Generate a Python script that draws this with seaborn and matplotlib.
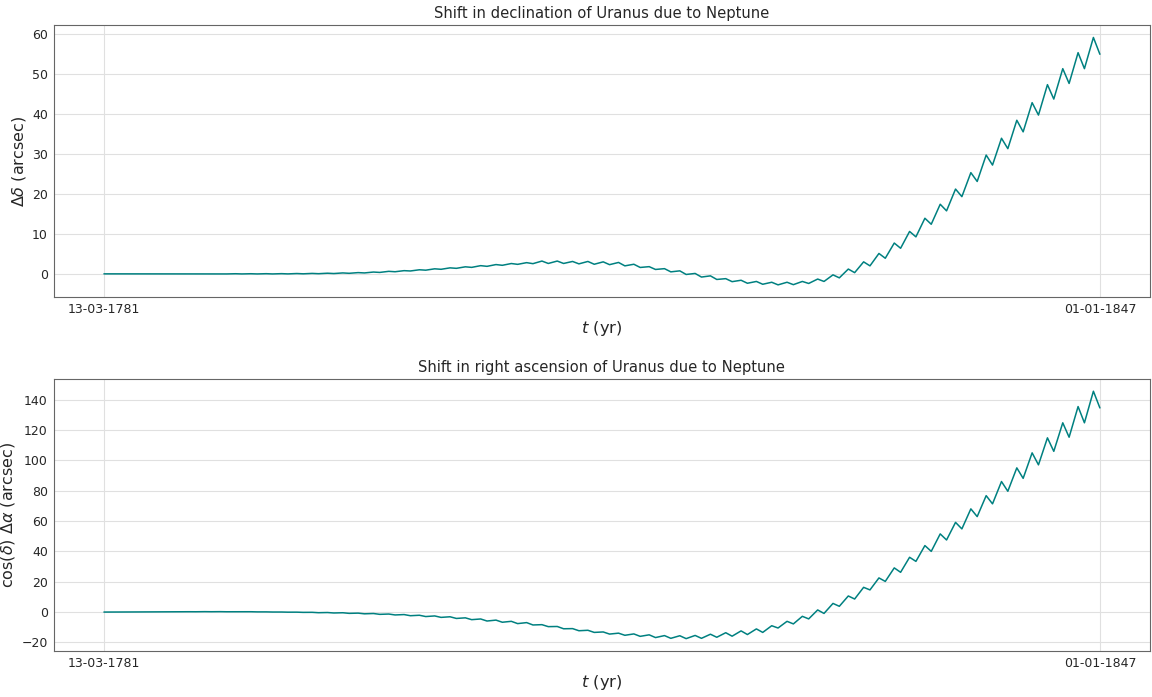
import pandas as pd
import matplotlib
matplotlib.use("Agg")
import matplotlib.pyplot as plt
import matplotlib.dates as mdates
import seaborn as sns

# observation window
start_date = "1781-03-13"
end_date = "1847-01-01"

# yearly extremes (one peak and one trough per synodic period of Uranus)
first_peak_days = 219      # days after start_date
synodic_days = 369.66
trough_lag_days = 153

# shift in declination (arcsec)
dec_peaks = [0.0, 0.0, 0.01, 0.01, 0.01, 0.02, 0.02, 0.02, 0.03, 0.03,
             0.04, 0.05, 0.08, 0.11, 0.16, 0.23, 0.31, 0.45, 0.63, 0.8,
             1.02, 1.26, 1.5, 1.76, 2.05, 2.32, 2.58, 2.8,
             3.2, 3.2, 3.1, 3.1, 3.0, 2.85, 2.4, 1.8, 1.3, 0.75,
             0.1, -0.5, -1.2, -1.6, -1.9, -2.1, -2.1, -1.9, -1.3, -0.25,
             1.2, 3.0, 5.1, 7.7, 10.6, 13.9, 17.4, 21.2, 25.3, 29.7,
             33.9, 38.4, 42.8, 47.3, 51.3, 55.3, 59.1]
dec_troughs = [0.0, -0.01, -0.01, -0.01, -0.01, -0.02, -0.02, -0.02, -0.02, -0.02,
               -0.02, -0.01, 0.01, 0.04, 0.08, 0.14, 0.23, 0.36, 0.53, 0.72,
               0.92, 1.14, 1.38, 1.62, 1.88, 2.14, 2.38, 2.55,
               2.6, 2.6, 2.5, 2.4, 2.3, 2.0, 1.6, 1.1, 0.5, -0.15,
               -0.8, -1.4, -1.95, -2.35, -2.6, -2.75, -2.7, -2.4, -1.9, -1.0,
               0.3, 2.0, 3.9, 6.4, 9.25, 12.4, 15.75, 19.3, 23.1, 27.2,
               31.3, 35.5, 39.7, 43.7, 47.6, 51.3]
dec_start, dec_end = 0.0, 54.9

# shift in right ascension, cos(dec) * dRA (arcsec)
ra_peaks = [0.0, 0.05, 0.1, 0.15, 0.2, 0.22, 0.27, 0.27, 0.22, 0.22,
            0.12, 0.03, -0.06, -0.17, -0.3, -0.45, -0.7, -0.95, -1.3, -1.65,
            -2.1, -2.55, -3.1, -3.8, -4.55, -5.3, -6.1, -6.95,
            -8.3, -9.5, -10.9, -12.0, -13.1, -13.9, -14.4, -15.0, -15.5, -15.6,
            -15.4, -14.6, -13.6, -12.4,
            -11.1, -9.0, -6.1, -2.8, 1.4, 5.7, 10.6, 16.3, 22.5, 29.1,
            36.1, 43.8, 51.5, 59.1, 68.0, 76.7, 86.0, 95.0, 104.9, 114.8,
            124.7, 135.4, 145.5]
ra_troughs = [0.02, 0.07, 0.12, 0.16, 0.18, 0.2, 0.22, 0.2, 0.18, 0.12,
              0.03, -0.07, -0.2, -0.42, -0.6, -0.85, -1.15, -1.5, -1.9, -2.4,
              -2.95, -3.5, -4.2, -5.0, -5.9, -6.7, -7.6, -8.5,
              -9.6, -11.0, -12.3, -13.4, -14.5, -15.3, -16.0, -16.8, -17.3, -17.5,
              -17.3, -16.6, -15.9, -14.8,
              -13.4, -10.5, -7.8, -4.5, -0.9, 3.8, 8.6, 14.6, 20.2, 26.2,
              33.4, 40.0, 47.5, 54.8, 62.9, 71.3, 79.6, 88.1, 97.0, 105.9,
              115.2, 124.7]
ra_start, ra_end = 0.0, 134.5


def build_frame(peaks, troughs, v0, v1):
    t0 = pd.Timestamp(start_date)
    times = [t0]
    vals = [v0]
    for k, p in enumerate(peaks):
        tp = t0 + pd.Timedelta(days=first_peak_days + k * synodic_days)
        times.append(tp)
        vals.append(p)
        if k < len(troughs):
            times.append(tp + pd.Timedelta(days=trough_lag_days))
            vals.append(troughs[k])
    times.append(pd.Timestamp(end_date))
    vals.append(v1)
    return pd.DataFrame({"t": times, "v": vals})


dec_df = build_frame(dec_peaks, dec_troughs, dec_start, dec_end)
ra_df = build_frame(ra_peaks, ra_troughs, ra_start, ra_end)

sns.set_style("whitegrid", {"axes.edgecolor": "0.4", "grid.color": "0.88",
                            "axes.linewidth": 1.2})
plt.rcParams["font.family"] = ["DejaVu Sans"]

fig, axes = plt.subplots(2, 1, figsize=(11.52, 6.97), dpi=100)
fig.subplots_adjust(left=0.047, right=0.998, top=0.964, bottom=0.066, hspace=0.30)

panels = [
    (axes[0], dec_df, "Shift in declination of Uranus due to Neptune",
     r"$\Delta\delta$ (arcsec)", [0, 10, 20, 30, 40, 50, 60]),
    (axes[1], ra_df, "Shift in right ascension of Uranus due to Neptune",
     r"cos($\delta$) $\Delta\alpha$ (arcsec)", [-20, 0, 20, 40, 60, 80, 100, 120, 140]),
]

for ax, df, title, ylab, yt in panels:
    sns.lineplot(data=df, x="t", y="v", ax=ax, color="teal", linewidth=1.1)
    ax.set_title(title, fontsize=10.6, pad=5)
    ax.set_xlabel(r"$t$ (yr)", fontsize=11.8, labelpad=2)
    ax.set_ylabel(ylab, fontsize=11.5, labelpad=3)
    ax.set_yticks(yt)
    ax.set_xticks([pd.Timestamp(start_date), pd.Timestamp(end_date)])
    ax.xaxis.set_major_formatter(mdates.DateFormatter("%d-%m-%Y"))
    ax.tick_params(labelsize=9, length=2.5, width=0.8, pad=2,
                   color="0.35", labelcolor="0.15")
    ax.grid(True, linewidth=0.8)

fig.savefig("out.png", dpi=100)
